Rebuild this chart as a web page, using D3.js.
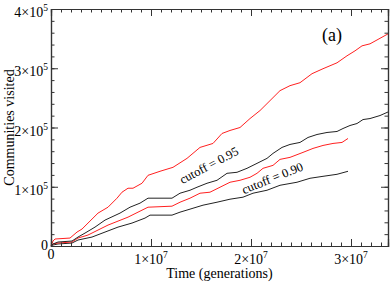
<!DOCTYPE html>
<html>

<head>
  <meta charset="UTF-8">
  <style>
    body { margin: 0; background: #fff; }
    svg { display: block; }
    text { font-family: "Liberation Serif", "DejaVu Serif", serif; fill: #000; }
    .axis path, .axis line { stroke: #333; }
  </style>
</head>

<body>
  <svg></svg>
  <script src="https://d3js.org/d3.v7.min.js"></script>

  <script>
    // time in units of 1e7 generations, communities in units of 1e5
    let t_red95 = [0, 0.02, 0.04, 0.19, 0.26, 0.31, 0.37, 0.47, 0.57, 0.66, 0.71, 0.77, 0.82, 0.91, 0.97, 1.09, 1.22, 1.36, 1.49, 1.62, 1.71, 1.79, 1.89, 1.99, 2.09, 2.17, 2.29, 2.39, 2.49, 2.61, 2.72, 2.86, 2.96, 3.04, 3.11, 3.19, 3.37];
    let v_red95 = [0, 0.084, 0.118, 0.134, 0.235, 0.286, 0.387, 0.555, 0.655, 0.807, 0.908, 0.975, 0.975, 1.059, 1.193, 1.261, 1.328, 1.479, 1.664, 1.731, 1.899, 1.95, 2.0, 2.151, 2.286, 2.42, 2.622, 2.706, 2.756, 2.908, 2.992, 3.092, 3.21, 3.294, 3.378, 3.412, 3.58];

    let t_blk95 = [0, 0.02, 0.07, 0.21, 0.27, 0.34, 0.44, 0.54, 0.69, 0.79, 0.89, 0.97, 1.21, 1.29, 1.39, 1.46, 1.56, 1.66, 1.76, 1.86, 1.96, 2.06, 2.16, 2.22, 2.31, 2.39, 2.49, 2.57, 2.66, 2.76, 2.86, 2.92, 2.99, 3.06, 3.12, 3.19, 3.29, 3.38];
    let v_blk95 = [0, 0.034, 0.067, 0.084, 0.151, 0.218, 0.319, 0.437, 0.555, 0.655, 0.723, 0.807, 0.807, 0.891, 0.941, 0.992, 1.059, 1.109, 1.227, 1.244, 1.311, 1.395, 1.479, 1.563, 1.664, 1.714, 1.748, 1.832, 1.882, 1.916, 1.933, 1.983, 2.034, 2.067, 2.134, 2.151, 2.202, 2.269];

    let t_red90 = [0, 0.02, 0.07, 0.21, 0.27, 0.37, 0.47, 0.57, 0.67, 0.77, 0.87, 0.97, 1.21, 1.29, 1.39, 1.49, 1.59, 1.69, 1.79, 1.89, 1.99, 2.06, 2.12, 2.22, 2.29, 2.39, 2.52, 2.62, 2.72, 2.82, 2.91, 2.97];
    let v_red90 = [0, 0.034, 0.05, 0.067, 0.134, 0.185, 0.269, 0.353, 0.42, 0.487, 0.571, 0.655, 0.672, 0.739, 0.807, 0.891, 0.908, 0.992, 1.076, 1.109, 1.16, 1.227, 1.311, 1.361, 1.462, 1.496, 1.58, 1.647, 1.697, 1.731, 1.748, 1.815];

    let t_blk90 = [0, 0.02, 0.07, 0.21, 0.27, 0.41, 0.54, 0.67, 0.81, 0.94, 0.99, 1.21, 1.29, 1.39, 1.52, 1.66, 1.79, 1.92, 2.02, 2.16, 2.29, 2.46, 2.59, 2.72, 2.86, 2.97];
    let v_blk90 = [0, 0.017, 0.034, 0.05, 0.101, 0.151, 0.235, 0.319, 0.387, 0.471, 0.521, 0.521, 0.571, 0.622, 0.689, 0.739, 0.79, 0.824, 0.891, 0.941, 1.025, 1.076, 1.143, 1.176, 1.21, 1.261];

    let x_ticks = [0, 1, 2, 3];
    let y_ticks = [0, 1, 2, 3, 4];

    let width = 390, height = 282;
    let margin = { top: 9, right: 2, bottom: 36, left: 51 };

    let svg = d3.select("svg")
      .attr("width", width)
      .attr("height", height);

    let x = d3.scaleLinear().domain([0, 3.37]).range([margin.left, width - margin.right]);
    let y = d3.scaleLinear().domain([0, 4]).range([height - margin.bottom, margin.top]);

    let line = d3.line()
      .x(d => x(d[0]))
      .y(d => y(d[1]));

    let series = [
      { t: t_blk90, v: v_blk90, color: "#222" },
      { t: t_red90, v: v_red90, color: "#ff2020" },
      { t: t_blk95, v: v_blk95, color: "#222" },
      { t: t_red95, v: v_red95, color: "#ff2020" }
    ];

    svg.append("g")
      .selectAll("path")
      .data(series)
      .enter()
      .append("path")
      .attr("d", s => line(s.t.map((d, i) => [d, s.v[i]])))
      .attr("fill", "none")
      .attr("stroke", s => s.color)
      .attr("stroke-width", 1);

    // frame with inward ticks
    let minorX = d3.range(0, 3.37, 0.1);
    let minorY = d3.range(0, 4.01, 0.2);

    function addAxis(axisFn, scale, ticks, size, transform) {
      svg.append("g")
        .attr("class", "axis")
        .attr("transform", transform)
        .call(axisFn(scale).tickValues(ticks).tickSize(size).tickFormat(""))
        .call(g => g.select(".domain").attr("stroke-width", 1.2));
    }

    let posBottom = "translate(0," + y(0) + ")";
    let posTop = "translate(0," + y(4) + ")";
    let posLeft = "translate(" + x(0) + ",0)";
    let posRight = "translate(" + x(3.37) + ",0)";

    addAxis(d3.axisBottom, x, minorX, -3.5, posBottom);
    addAxis(d3.axisBottom, x, x_ticks, -7, posBottom);
    addAxis(d3.axisTop, x, minorX, -3.5, posTop);
    addAxis(d3.axisTop, x, x_ticks, -7, posTop);
    addAxis(d3.axisLeft, y, minorY, -3.5, posLeft);
    addAxis(d3.axisLeft, y, y_ticks, -7, posLeft);
    addAxis(d3.axisRight, y, minorY, -3.5, posRight);
    addAxis(d3.axisRight, y, y_ticks, -7, posRight);

    // tick labels with superscripts
    svg.append("g")
      .selectAll("text")
      .data(x_ticks)
      .enter()
      .append("text")
      .attr("x", d => x(d))
      .attr("y", d => d === 0 ? y(0) + 13 : y(0) + 18)
      .attr("text-anchor", "middle")
      .attr("font-size", 14)
      .each(function (d) {
        let t = d3.select(this);
        if (d === 0) { t.text("0"); return; }
        t.append("tspan").text(d + "×10");
        t.append("tspan").attr("dy", -6).attr("font-size", 9.5).text("7");
      });

    svg.append("g")
      .selectAll("text")
      .data(y_ticks)
      .enter()
      .append("text")
      .attr("x", margin.left - 3)
      .attr("y", d => d === 0 ? y(0) + 4 : y(d) + 8)
      .attr("text-anchor", "end")
      .attr("font-size", 14)
      .each(function (d) {
        let t = d3.select(this);
        if (d === 0) { t.text("0"); return; }
        t.append("tspan").text(d + "×10");
        t.append("tspan").attr("dy", -6).attr("font-size", 9.5).text("5");
      });

    // axis titles
    svg.append("text")
      .attr("x", (x(0) + x(3.37)) / 2)
      .attr("y", 278)
      .attr("text-anchor", "middle")
      .attr("font-size", 14)
      .text("Time (generations)");

    svg.append("text")
      .attr("transform", "translate(14," + (y(0) + y(4)) / 2 + ") rotate(-90)")
      .attr("text-anchor", "middle")
      .attr("font-size", 14)
      .text("Communities visited");

    svg.append("text")
      .attr("x", 332)
      .attr("y", 41)
      .attr("text-anchor", "middle")
      .attr("font-size", 18)
      .text("(a)");

    svg.append("text")
      .attr("transform", "translate(211,169) rotate(-28)")
      .attr("text-anchor", "middle")
      .attr("font-size", 12.5)
      .text("cutoff = 0.95");

    svg.append("text")
      .attr("transform", "translate(274,182) rotate(-22)")
      .attr("text-anchor", "middle")
      .attr("font-size", 12.5)
      .text("cutoff = 0.90");
  </script>

</body>

</html>
